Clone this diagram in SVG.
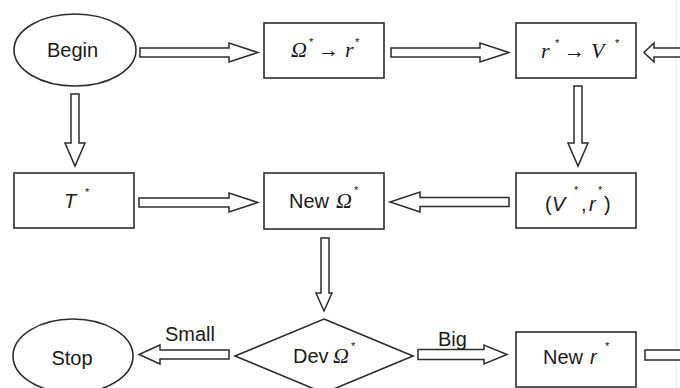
<svg xmlns="http://www.w3.org/2000/svg" width="680" height="388" viewBox="0 0 680 388">
  <style>
    .shape { fill: #ffffff; stroke: #2b2b2b; stroke-width: 1.6; }
    .arrow { fill: #ffffff; stroke: #2b2b2b; stroke-width: 1.5; stroke-linejoin: miter; }
    .lbl { font-family: "Liberation Sans", Arial, sans-serif; font-size: 20px; fill: #1a1a1a; }
    .math { font-family: "Liberation Serif", "Times New Roman", serif; font-style: italic; font-size: 22px; fill: #1a1a1a; }
    .it { font-family: "Liberation Sans", Arial, sans-serif; font-style: italic; font-size: 20px; fill: #1a1a1a; }
    .sup { font-family: "Liberation Sans", Arial, sans-serif; font-size: 11px; fill: #111111; }
    .op { font-family: "Liberation Serif", "Times New Roman", serif; font-size: 21px; fill: #1a1a1a; }
  </style>
  <rect width="680" height="388" fill="#ffffff"/>
  <line x1="676.5" y1="0" x2="676.5" y2="388" stroke="#ececec" stroke-width="1"/>

  <!-- hollow block-arrow connectors -->
  <g id="connectors">
    <polygon class="arrow" points="140,48 229,48 229,43 258,52.5 229,62 229,57 140,57"/>
    <polygon class="arrow" points="391,48 480,48 480,43 509,52.5 480,62 480,57 391,57"/>
    <polygon class="arrow" points="684,48 654,48 654,43 644,52.5 654,62 654,57 684,57"/>
    <polygon class="arrow" points="71,94 79,94 79,143 85,143 75,166 65,143 71,143"/>
    <polygon class="arrow" points="574,86 582,86 582,143 588,143 578,166 568,143 574,143"/>
    <polygon class="arrow" points="139,198 229,198 229,193 258,202.5 229,212 229,207 139,207"/>
    <polygon class="arrow" points="509,197.5 420,197.5 420,192 390,202 420,212 420,206.5 509,206.5"/>
    <polygon class="arrow" points="321,238 329,238 329,293 332,293 324,311 316,293 321,293"/>
    <polygon class="arrow" points="229,350 160,350 160,345 139,354.5 160,364 160,359 229,359"/>
    <polygon class="arrow" points="418,349.5 484,349.5 484,345 507,354.5 484,364 484,359.5 418,359.5"/>
    <polygon class="arrow" points="684,350 645,350 645,360 684,360"/>
  </g>

  <g id="begin">
    <ellipse class="shape" cx="75" cy="50" rx="61" ry="36"/>
    <text class="lbl" x="72.5" y="57" text-anchor="middle">Begin</text>
  </g>

  <g id="omega-to-r">
    <rect class="shape" x="264" y="23" width="120" height="55"/>
    <text class="math" x="291" y="57">Ω</text>
    <text class="sup" x="309" y="46">*</text>
    <text class="op" x="318" y="57">→</text>
    <text class="math" x="345" y="57">r</text>
    <text class="sup" x="355" y="46">*</text>
  </g>

  <g id="r-to-v">
    <rect class="shape" x="516" y="23" width="120" height="55"/>
    <text class="math" x="541" y="58">r</text>
    <text class="sup" x="555" y="47">*</text>
    <text class="op" x="564" y="58">→</text>
    <text class="math" x="591" y="58">V</text>
    <text class="sup" x="615" y="47">*</text>
  </g>

  <g id="t-star">
    <rect class="shape" x="14" y="173" width="120" height="55"/>
    <text class="it" x="64" y="208">T</text>
    <text class="sup" x="85" y="196">*</text>
  </g>

  <g id="new-omega">
    <rect class="shape" x="264" y="173" width="120" height="56"/>
    <text class="lbl" x="289" y="208">New</text>
    <text class="math" x="336" y="208">Ω</text>
    <text class="sup" x="354" y="194">*</text>
  </g>

  <g id="v-r-pair">
    <rect class="shape" x="516" y="173" width="120" height="55"/>
    <text class="lbl" x="545" y="211">(</text>
    <text class="it" x="552" y="211">V</text>
    <text class="sup" x="574" y="194">*</text>
    <text class="lbl" x="581" y="211">,</text>
    <text class="it" x="589" y="211">r</text>
    <text class="sup" x="598" y="194">*</text>
    <text class="lbl" x="604" y="211">)</text>
  </g>

  <g id="stop">
    <ellipse class="shape" cx="73" cy="356" rx="60" ry="37"/>
    <text class="lbl" x="72" y="365" text-anchor="middle">Stop</text>
  </g>

  <g id="dev-omega">
    <polygon class="shape" points="324,319 413,356 324,393 235,356"/>
    <text class="lbl" x="293" y="363">Dev</text>
    <text class="math" x="333" y="363">Ω</text>
    <text class="sup" x="351" y="350">*</text>
  </g>

  <g id="new-r">
    <rect class="shape" x="516" y="332" width="120" height="55"/>
    <text class="lbl" x="543" y="364">New</text>
    <text class="it" x="590" y="364">r</text>
    <text class="sup" x="605" y="350">*</text>
  </g>

  <g id="edge-labels">
    <text class="lbl" x="165" y="341">Small</text>
    <text class="lbl" x="438" y="346">Big</text>
  </g>
</svg>
